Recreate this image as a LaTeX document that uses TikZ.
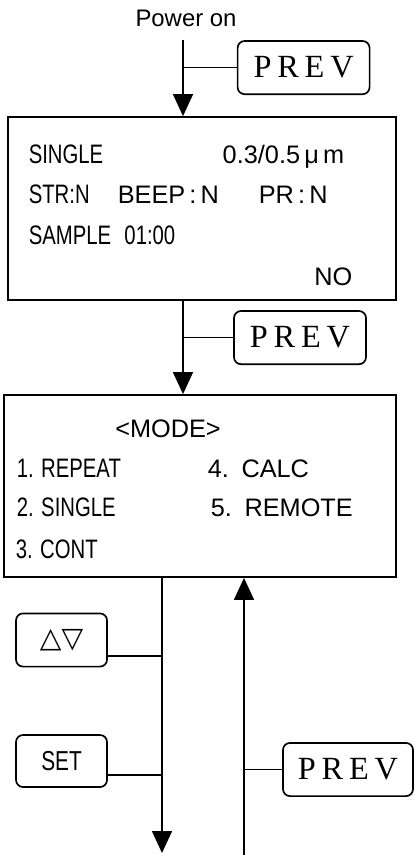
\documentclass[tikz,border=0pt]{standalone}
\usepackage{fontspec}
\setmainfont{Liberation Sans}
\newfontfamily\narrowfont[FakeStretch=0.76]{Liberation Sans}
\newfontfamily\keyfont[LetterSpace=18]{Liberation Serif}
\newfontfamily\symfont{DejaVu Sans}
\usetikzlibrary{arrows.meta,positioning,calc}

\begin{document}
\begin{tikzpicture}[>={Triangle[width=0.5cm,length=0.55cm]},x=1.000cm,y=1.000cm,
 font=\fontsize{18}{21}\selectfont,line width=1.1pt,
 screen/.style={draw,line width=1.3pt,inner sep=0pt},
 key/.style={draw,rounded corners=5pt,line width=1.2pt,inner sep=0pt,minimum width=3.3cm,minimum height=1.33cm,font=\keyfont\fontsize{23}{26}\selectfont},
 smallkey/.style={key,minimum width=2.275cm,minimum height=1.33cm,font=\narrowfont\fontsize{19.5}{22}\selectfont},
 txt/.style={anchor=base west,inner sep=0pt},
 ntxt/.style={txt,font=\narrowfont\fontsize{19}{22}\selectfont},
 rtxt/.style={anchor=base east,inner sep=0pt}]
\useasboundingbox (0,0) rectangle (10.35,-21.375);
% power on and first screen
\node[font=\fontsize{17}{20}\selectfont] (pwr) at (4.650,-0.450) {Power on};
\node[key] (prev1) at (7.590,-1.690) {PREV};
\node[screen,minimum width=9.7cm,minimum height=4.575cm] (scr1) at (5.050,-5.213) {};
\node[ntxt] (l1a) at (0.700,-4.075) {SINGLE};
\node[rtxt] (l1b) at (8.625,-4.075) {0.3/0.5\,μ\,m};
\node[ntxt] (l2a) at (0.700,-5.075) {STR:N};
\node[txt] (l2b) at (2.925,-5.075) {BEEP\,:\,N};
\node[txt] (l2c) at (6.450,-5.075) {PR\,:\,N};
\node[ntxt] (l3a) at (0.700,-6.100) {SAMPLE\enspace 01:00};
\node[rtxt] (l4a) at (8.825,-7.125) {NO};
% mode screen
\node[key] (prev2) at (7.500,-8.440) {PREV};
\node[screen,minimum width=9.8cm,minimum height=4.55cm] (scr2) at (5.000,-12.150) {};
\node[anchor=base,inner sep=0pt] (mode) at (4.200,-10.925) {<MODE>};
\node[ntxt] (m1) at (0.400,-11.925) {1. REPEAT};
\node[txt] (m4) at (5.175,-11.925) {4.\enspace CALC};
\node[ntxt] (m2) at (0.400,-12.900) {2. SINGLE};
\node[txt] (m5) at (5.250,-12.900) {5.\enspace REMOTE};
\node[ntxt] (m3) at (0.375,-13.950) {3. CONT};
% keys below
\node[smallkey,font=\symfont\fontsize{20}{22}\selectfont] (updn) at (1.538,-16.000) {△▽};
\node[smallkey,minimum height=1.3cm] (set) at (1.538,-19.025) {SET};
\node[key,minimum width=3.25cm] (prev3) at (8.700,-19.238) {PREV};
\coordinate (p0) at (4.575,-1.000);
\coordinate (d0) at (4.050,-21.325);
\coordinate (u0) at (6.100,-21.375);
\coordinate (j1) at (4.050,-16.400);
\coordinate (j2) at (4.050,-19.375);
\draw[->] (p0) -- (p0 |- scr1.north);
\draw (prev1.west) -- (prev1.west -| p0);
\draw[->] (p0 |- scr1.south) -- (p0 |- scr2.north);
\draw (prev2.west) -- (prev2.west -| p0);
\draw[->] (d0 |- scr2.south) -- (d0);
\draw[->] (u0) -- (u0 |- scr2.south);
\draw (updn.east |- j1) -- (j1);
\draw (set.east |- j2) -- (j2);
\draw (prev3.west) -- (prev3.west -| u0);
\end{tikzpicture}
\end{document}
